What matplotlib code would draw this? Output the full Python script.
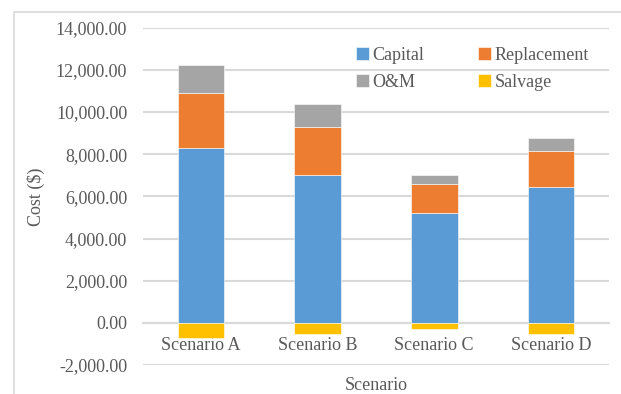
import matplotlib.pyplot as plt
from matplotlib.patches import Rectangle
from matplotlib.ticker import FuncFormatter
import numpy as np

FONT = 'Liberation Serif'
FS = 13

scenarios = ['Scenario A', 'Scenario B', 'Scenario C', 'Scenario D']
capital = [8270, 7020, 5190, 6420]
replacement = [2640, 2250, 1400, 1740]
om = [1310, 1120, 410, 600]
salvage = [-740, -520, -280, -550]

txt = '#595959'
grid = '#D9D9D9'

fig = plt.figure(figsize=(6.21, 3.94), dpi=100)
ax = fig.add_axes([0.2295, 0.0736, 0.7515, 0.8561])

# chart area border (runs off the right and bottom edges)
fig.patches.append(Rectangle((14 / 621, -0.1), 2.0, 1 - 12 / 394 + 0.1,
                             transform=fig.transFigure, fill=False,
                             edgecolor='#D9D9D9', linewidth=1.2))

x = np.arange(len(scenarios))
w = 0.4
cap = np.array(capital)
rep = np.array(replacement)
b1 = ax.bar(x, cap, w, color='#5B9BD5', edgecolor='white', linewidth=0.4, zorder=3)
b2 = ax.bar(x, rep, w, bottom=cap, color='#ED7D31', edgecolor='white', linewidth=0.4, zorder=3)
b3 = ax.bar(x, om, w, bottom=cap + rep, color='#A5A5A5', edgecolor='white', linewidth=0.4, zorder=3)
b4 = ax.bar(x, salvage, w, color='#FFC000', edgecolor='white', linewidth=0.4, zorder=3)

ax.set_xlim(-0.5, 3.5)
ax.set_ylim(-2000, 14000)
ax.set_yticks(range(-2000, 14001, 2000))
ax.yaxis.set_major_formatter(FuncFormatter(lambda v, p: f'{v:,.2f}'))
ax.grid(axis='y', color=grid, linewidth=1.5, zorder=0)
ax.set_axisbelow(True)

for s in ['left', 'right', 'top']:
    ax.spines[s].set_visible(False)
ax.spines['bottom'].set_position(('data', 0))
ax.spines['bottom'].set_color(grid)
ax.spines['bottom'].set_linewidth(1.5)
ax.spines['bottom'].set_zorder(2)

ax.set_xticks(x)
ax.set_xticklabels(scenarios)
ax.tick_params(axis='x', length=0, pad=10, labelsize=FS, labelcolor=txt)
ax.tick_params(axis='y', length=0, pad=11, labelsize=FS, labelcolor=txt)
for lab in ax.get_xticklabels() + ax.get_yticklabels():
    lab.set_fontfamily(FONT)

ax.set_ylabel('Cost ($)', fontsize=FS, color=txt, fontfamily=FONT)
ax.yaxis.set_label_coords(36 / 621, 0.5, transform=fig.transFigure)
ax.yaxis.label.set_verticalalignment('center')
fig.text(0.6055, 0.021, 'Scenario', ha='center', va='center', fontsize=FS,
         color=txt, fontfamily=FONT)

leg = ax.legend([b1, b3, b2, b4], ['Capital', 'O&M', 'Replacement', 'Salvage'],
                ncol=2, frameon=False, prop={'family': FONT, 'size': FS},
                handlelength=0.7, handleheight=0.7,
                handletextpad=0.2, columnspacing=3.0, labelspacing=0.55,
                loc='upper left', bbox_to_anchor=(347 / 621, 1 - 38 / 394),
                bbox_transform=fig.transFigure, borderpad=0)
for t in leg.get_texts():
    t.set_color(txt)

fig.savefig('out.png', dpi=100)
